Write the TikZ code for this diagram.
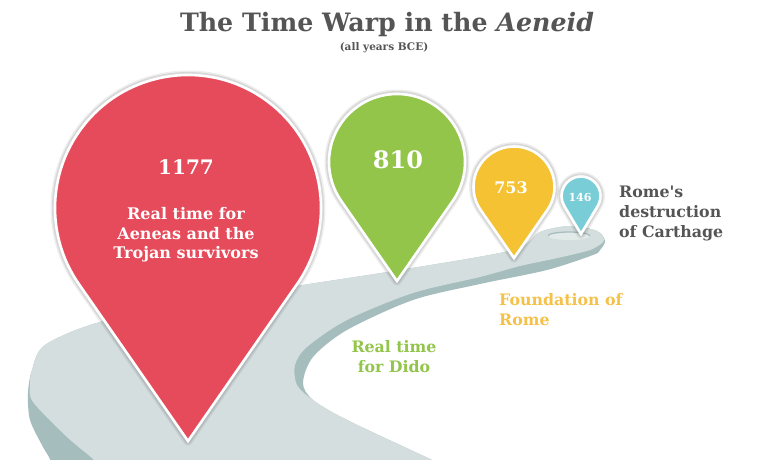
\documentclass[tikz,border=0pt]{standalone}
\usepackage{fontspec}
\setmainfont{DejaVu Serif}
\definecolor{pinred}{HTML}{E54B5A}
\definecolor{pingreen}{HTML}{92C54A}
\definecolor{pinyellow}{HTML}{F4C232}
\definecolor{pinteal}{HTML}{78CDD7}
\definecolor{roadlight}{HTML}{D4DEDF}
\definecolor{roaddark}{HTML}{A6BDBE}
\definecolor{roadhole}{HTML}{E2E9E9}
\definecolor{txtgray}{HTML}{555555}
\definecolor{txtyellow}{HTML}{F4C24A}
\newcommand\mypin[5]{%
  \pgfmathsetmacro\pinB{acos(#3/#4)}%
  \pgfmathsetmacro\pinS{-90+\pinB}%
  \pgfmathsetmacro\pinE{270-\pinB}%
  \draw[black,opacity=0.07,line width=9,line join=round] (#1,#2-#4) -- ([shift={(#1,#2)}]\pinS:#3) arc[start angle=\pinS,end angle=\pinE,radius=#3] -- cycle;
  \draw[black,opacity=0.09,line width=6,line join=round] (#1,#2-#4) -- ([shift={(#1,#2)}]\pinS:#3) arc[start angle=\pinS,end angle=\pinE,radius=#3] -- cycle;
  \filldraw[fill=#5,draw=white,line width=2.6,line join=miter] (#1,#2-#4) -- ([shift={(#1,#2)}]\pinS:#3) arc[start angle=\pinS,end angle=\pinE,radius=#3] -- cycle;
}
\begin{document}
\begin{tikzpicture}[x=1pt,y=1pt,
  wtxt/.style={text=white,font=\bfseries,align=center,inner sep=0pt},
  lbl/.style={font=\bfseries\fontsize{15.8}{20}\selectfont,inner sep=0pt}]
\useasboundingbox (0,0) rectangle (761,459);
\clip (0,0) rectangle (761,459);
\fill[white] (0,0) rectangle (761,459);
% road: side
\fill[roaddark] plot[smooth,tension=0.5] coordinates {
 (52,-10) (50,0) (43,12) (30,39) (28,66) (32,89) (45,114) (100,137) (200,157)
 (303,174) (400,189) (513,209) (540,227) (570,233) (597,228) (605,218) (600,209)
 (593,204) (547,189) (480,175) (413,159) (347,129) (313,102) (303,76) (313,59)
 (347,39) (430,0) (450,-10)} -- cycle;
% road: top
\fill[roadlight] plot[smooth,tension=0.5] coordinates {
 (100,-10) (93,0) (67,22) (33,57) (30,74) (32,89) (45,114) (100,137) (200,157)
 (303,174) (400,189) (513,209) (540,227) (570,233) (597,228) (604,219) (598,213)
 (587,208) (553,200) (520,193) (480,182) (413,166) (347,139) (307,112) (295,94)
 (297,74) (313,59) (347,39) (430,0) (450,-10)} -- cycle;
% road: inner curl
\fill[roadhole] (569,223) ellipse[x radius=21,y radius=4];
\draw[roaddark,line width=1.3] (548,223) arc[start angle=180,end angle=0,x radius=21,y radius=4];
% pins
\mypin{188}{251}{133}{233}{pinred}
\mypin{397}{297}{68}{119}{pingreen}
\mypin{514}{272}{40.5}{71}{pinyellow}
\mypin{581}{263}{19.5}{38}{pinteal}
% title
\node[text=txtgray,font=\bfseries\fontsize{25.3}{29}\selectfont,anchor=base,inner sep=0pt] (title) at (387,427) {The Time Warp in the \textit{Aeneid}};
\node[text=txtgray,font=\bfseries\fontsize{10.5}{12}\selectfont,anchor=base,inner sep=0pt] (sub) at (384,408) {(all years BCE)};
% pin texts
\node[wtxt,font=\bfseries\fontsize{20}{24}\selectfont] (y1177) at (186,292) {1177};
\node[wtxt,font=\bfseries\fontsize{16}{19.5}\selectfont] (aeneas) at (186,224) {Real time for\\Aeneas and the\\Trojan survivors};
\node[wtxt,font=\bfseries\fontsize{24}{28}\selectfont] (y810) at (398,299) {810};
\node[wtxt,font=\bfseries\fontsize{16}{20}\selectfont] (y753) at (511,271) {753};
\node[wtxt,font=\bfseries\fontsize{11}{13}\selectfont] (y146) at (580,262) {146};
% outside labels
\node[lbl,text=txtgray,anchor=west,align=left] (carthage) at (619,246) {Rome\textquotesingle s\\destruction\\of Carthage};
\node[lbl,text=txtyellow,anchor=west,align=left] (rome) at (499,149) {Foundation of\\Rome};
\node[lbl,text=pingreen,align=center] (dido) at (394,102) {Real time\\for Dido};
\end{tikzpicture}
\end{document}
